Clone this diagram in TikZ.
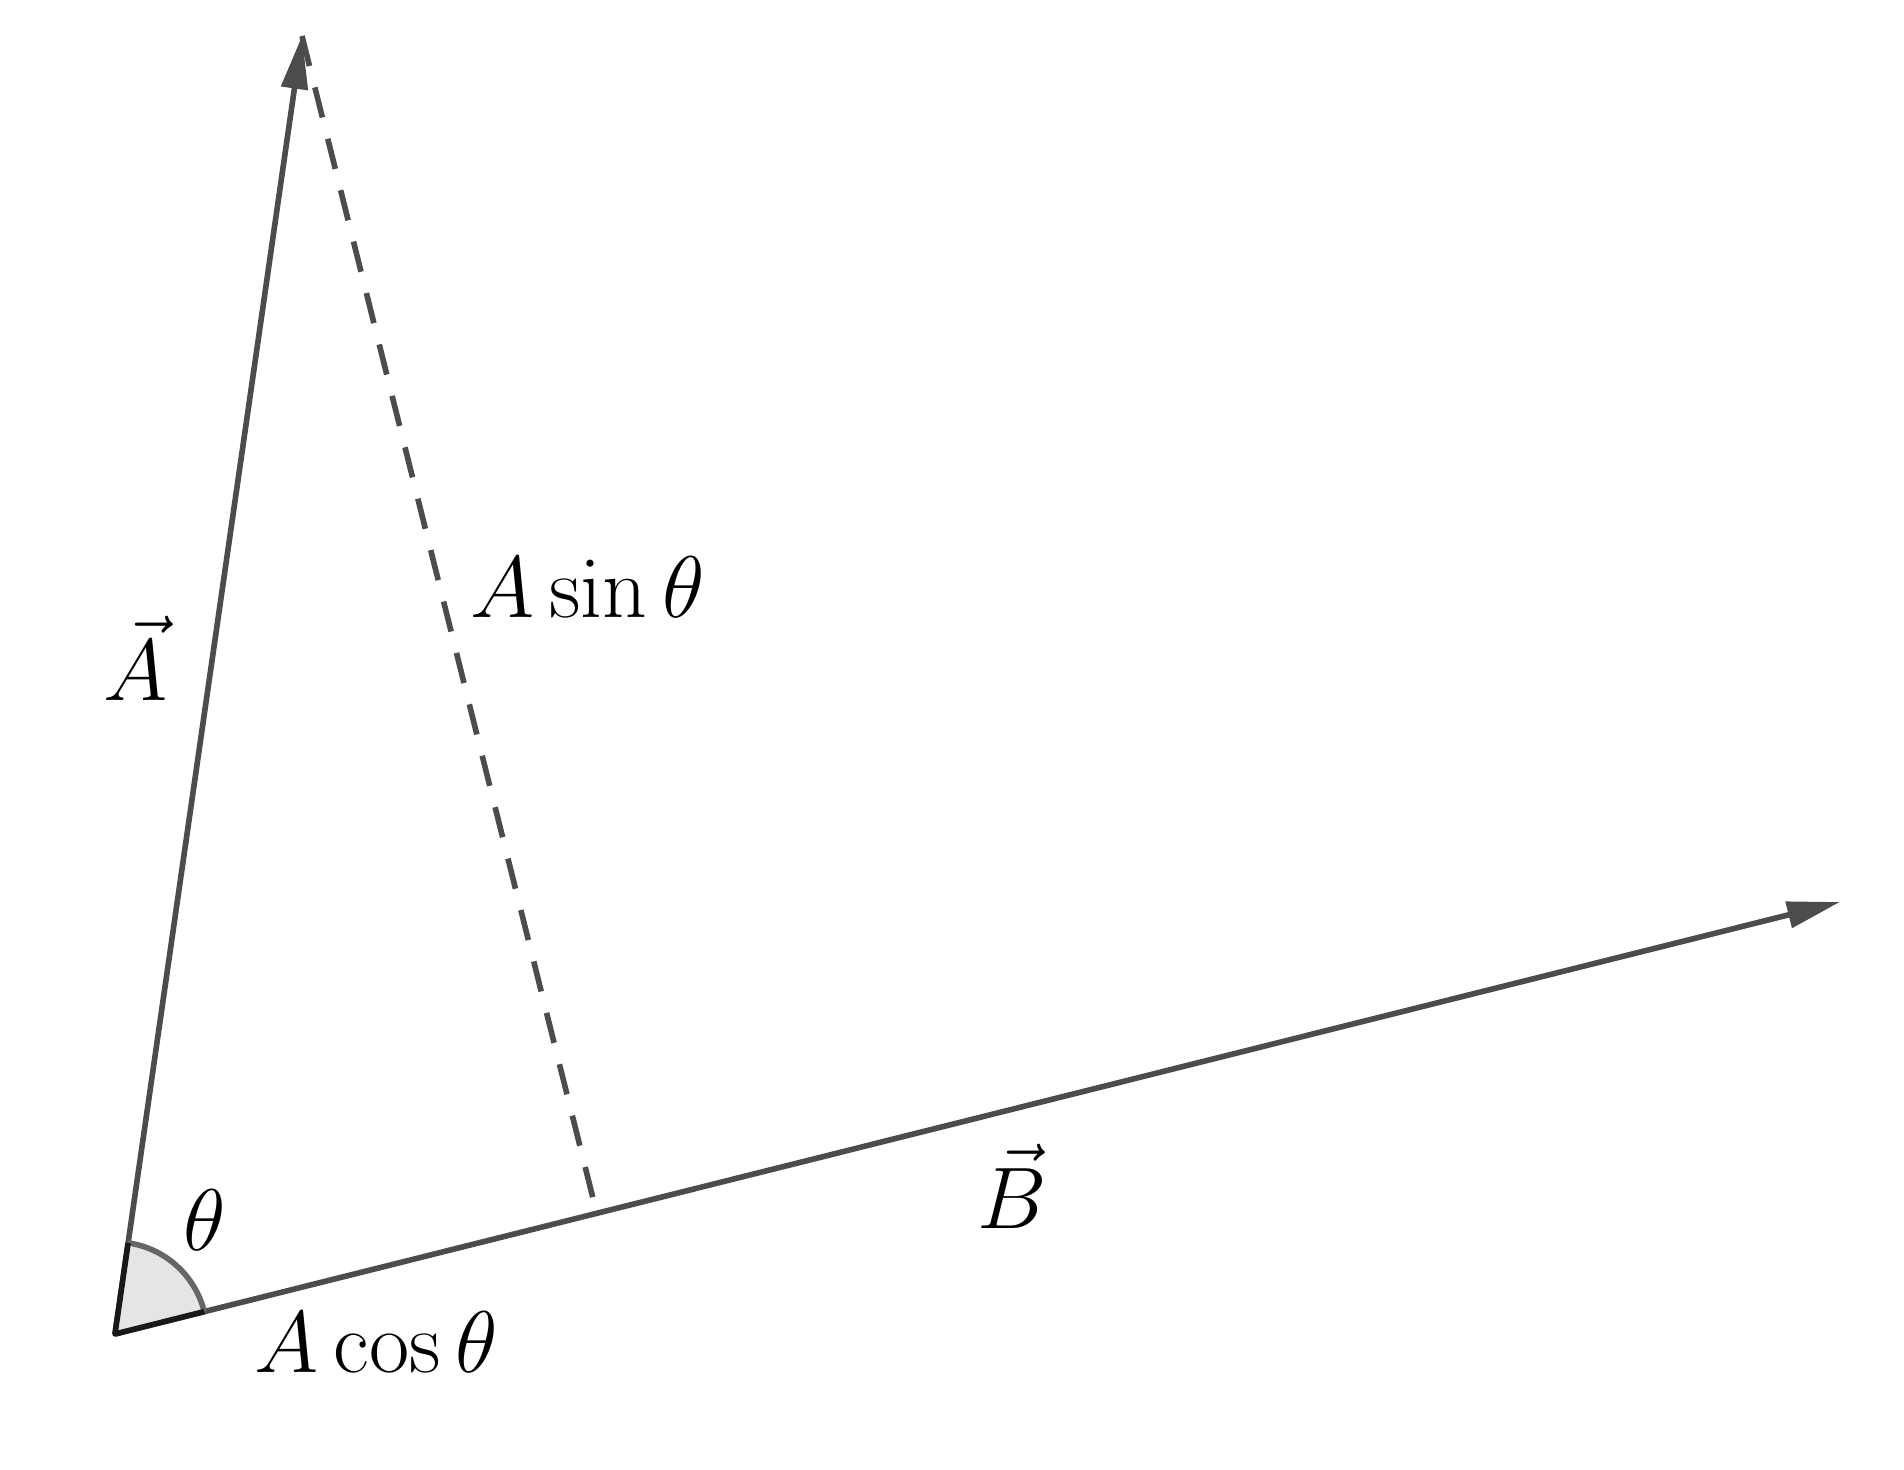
\documentclass[tikz,border=0pt]{standalone}
\usepackage{amssymb}
\usepackage{amsmath}
\usepackage{tikz}
\usetikzlibrary{arrows.meta,calc}

\begin{document}
\begin{tikzpicture}[line width=1.6pt]
		\tikzstyle{vec}=[draw=black!70,-{Triangle[length=0.53cm,width=0.26cm]}]
		\tikzstyle{proj}=[draw=black!70,dash pattern=on 0.31cm off 0.22cm]
		\tikzstyle{lbl}=[inner sep=0pt,anchor=base west,font=\fontsize{24}{29}\selectfont]
		\useasboundingbox (0,0) rectangle (19.04,14.70);
		\coordinate (o) at (1.15,1.36);
		\coordinate (a) at (3.02,14.34);
		\coordinate (b) at (18.40,5.68);
		\coordinate (f) at ($(o)!(a)!(b)$);
		\draw[proj] (a) -- (f);
		\draw[vec] (o) -- (a);
		\draw[vec] (o) -- (b);
		% angle theta
		\fill[black!10] (o) -- ++(14.06:0.92) arc[start angle=14.06,end angle=81.8,radius=0.92] -- cycle;
		\draw[black!60] (o) ++(14.06:0.92) arc[start angle=14.06,end angle=81.8,radius=0.92];
		\draw[black!90,line join=round] (o) ++(81.8:0.92) -- (o) -- ++(14.06:0.92);
		\node[lbl] (la) at (1.01,7.69) {$\vec{A}$};
		\node[lbl] (lb) at (9.75,2.41) {$\vec{B}$};
		\node[lbl] (lt) at (1.81,2.19) {$\theta$};
		\node[lbl] (ls) at (4.68,8.52) {$A\sin\theta$};
		\node[lbl] (lc) at (2.52,0.97) {$A\cos\theta$};
	\end{tikzpicture}
\end{document}
